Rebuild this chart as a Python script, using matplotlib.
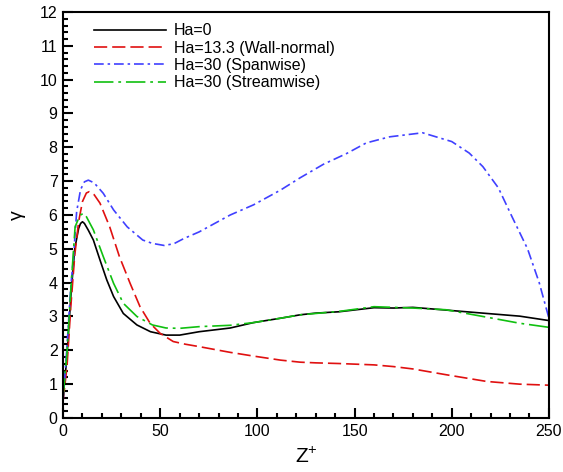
import numpy as np
import matplotlib
matplotlib.use("Agg")
import matplotlib.pyplot as plt
from matplotlib.ticker import MultipleLocator

plt.rcParams["font.family"] = ["Liberation Sans", "DejaVu Sans"]
plt.rcParams["mathtext.default"] = "regular"
plt.rcParams["lines.scale_dashes"] = False

# Ha=0
z_ha0 = [0, 2, 4, 6, 8, 9, 10, 11, 13, 15.6, 19, 22.5, 26, 31, 38, 45, 53, 60, 70,
         86, 98, 112, 122, 130, 142, 160, 170, 180, 197, 218, 235, 250]
g_ha0 = [0.6, 1.8, 3.6, 5.0, 5.6, 5.75, 5.8, 5.75, 5.55, 5.26, 4.67, 4.08, 3.59, 3.09,
         2.75, 2.55, 2.45, 2.45, 2.55, 2.66, 2.82, 2.95, 3.05, 3.1, 3.14, 3.26, 3.25,
         3.27, 3.19, 3.09, 3.01, 2.88]

# Ha=13.3 (Wall-normal)
z_wn = [0, 2, 4, 6, 8, 10, 12, 13.5, 16, 19, 24, 29, 34.5, 39.6, 44.8, 50, 56.7, 63,
        70, 86, 98, 112, 122, 130, 142, 160, 170, 180, 197, 218, 235, 250]
g_wn = [0.5, 1.5, 3.3, 4.8, 5.8, 6.4, 6.65, 6.69, 6.6, 6.35, 5.65, 4.77, 3.98, 3.29,
        2.8, 2.5, 2.26, 2.18, 2.11, 1.94, 1.83, 1.71, 1.65, 1.63, 1.61, 1.57, 1.52,
        1.45, 1.28, 1.08, 1.0, 0.97]

# Ha=30 (Spanwise)
z_sp = [0, 2, 4, 5.3, 7, 9, 11, 13, 16, 20.7, 26, 33, 41, 46, 52, 57, 62, 70, 86,
        98, 112, 122, 134, 146, 156, 168, 185, 200, 209, 216, 224, 231, 239, 245, 250]
g_sp = [0.5, 2.1, 3.9, 4.7, 6.1, 6.75, 6.98, 7.03, 6.95, 6.64, 6.15, 5.65, 5.26,
        5.16, 5.1, 5.15, 5.3, 5.5, 6.0, 6.3, 6.74, 7.1, 7.5, 7.82, 8.13, 8.31, 8.43,
        8.17, 7.83, 7.43, 6.8, 5.95, 5.0, 4.0, 2.95]

# Ha=30 (Streamwise)
z_st = [0, 2, 4, 6.2, 8, 9, 10.5, 12, 15.6, 20.7, 26, 31, 38, 46, 53, 60, 70, 86,
        98, 112, 122, 130, 142, 160, 170, 180, 197, 218, 235, 250]
g_st = [0.6, 1.9, 3.8, 5.65, 5.9, 6.0, 6.05, 5.95, 5.56, 4.77, 3.98, 3.39, 3.0, 2.75,
        2.66, 2.65, 2.7, 2.74, 2.82, 2.95, 3.05, 3.09, 3.15, 3.29, 3.27, 3.25, 3.2,
        2.98, 2.8, 2.68]

fig = plt.figure(figsize=(5.63, 4.72), dpi=100)
ax = fig.add_axes([0.112, 0.1144, 0.863, 0.8602])

lw = 1.2
ax.plot(z_ha0, g_ha0, color="black", lw=lw, label="Ha=0")
ax.plot(z_wn, g_wn, color="#e01010", lw=lw, dashes=(9.5, 3.6),
        label="Ha=13.3 (Wall-normal)")
ax.plot(z_sp, g_sp, color="#4040ff", lw=lw, dashes=(7, 2.8, 1.8, 2.8),
        label="Ha=30 (Spanwise)")
ax.plot(z_st, g_st, color="#10c010", lw=lw, dashes=(14, 3.5, 2, 3.5),
        label="Ha=30 (Streamwise)")

ax.set_xlim(0, 250)
ax.set_ylim(0, 12)
ax.xaxis.set_major_locator(MultipleLocator(50))
ax.xaxis.set_minor_locator(MultipleLocator(10))
ax.yaxis.set_major_locator(MultipleLocator(1))
ax.yaxis.set_minor_locator(MultipleLocator(0.2))
ax.tick_params(which="both", direction="in", top=False, right=False,
               labelsize=11.5, width=1.5, pad=4)
ax.tick_params(which="major", length=7)
ax.tick_params(which="minor", length=3.5)
for sp in ax.spines.values():
    sp.set_linewidth(1.5)

ax.set_xlabel("Z$^{+}$", fontsize=15, labelpad=6)
ax.set_ylabel("γ", fontsize=14, labelpad=10)

ax.legend(loc="upper left", bbox_to_anchor=(0.04, 1.0), frameon=False,
          fontsize=11.5, handlelength=4.5, handletextpad=0.5, labelspacing=0.15,
          borderaxespad=0.3)

fig.savefig("out.png", dpi=100)
